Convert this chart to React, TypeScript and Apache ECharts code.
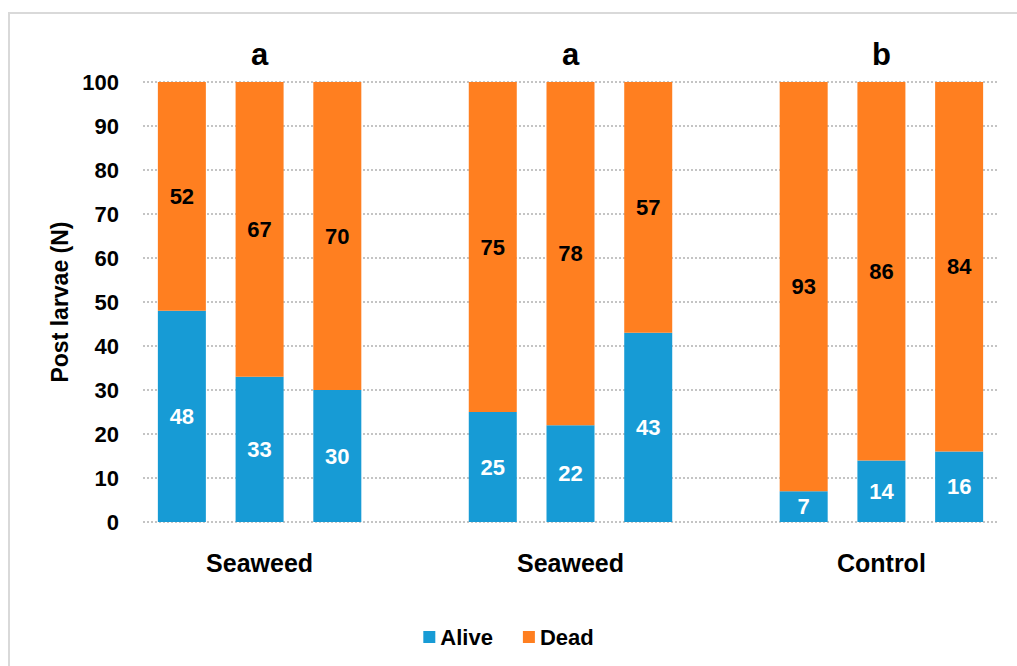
import React, { useEffect, useRef } from "react";
import * as echarts from "echarts";

const groupNames = ["Seaweed", "Seaweed", "Control"];
const groupLetters = ["a", "a", "b"];
const alive = [48, 33, 30, 25, 22, 43, 7, 14, 16];
const dead = [52, 67, 70, 75, 78, 57, 93, 86, 84];
const yTicks = { min: 0, max: 100, interval: 10 };

const FONT = "'Liberation Sans', Arial, sans-serif";

export default function App() {
  const ref = useRef<HTMLDivElement>(null);
  useEffect(() => {
    document.body.style.margin = "0";
    if (!ref.current) return;
    const chart = echarts.init(ref.current, undefined, { renderer: "svg" });
    // build 11 slots: 3 bars, gap, 3 bars, gap, 3 bars
    const cats: string[] = [];
    const catLabels: string[] = [];
    const aliveData: (number | null)[] = [];
    const deadData: (number | null)[] = [];
    const letterData: [number, number, string][] = [];
    groupNames.forEach((g, gi) => {
      for (let k = 0; k < 3; k++) {
        const idx = gi * 3 + k;
        cats.push(`${g}-${gi}-${k}`);
        catLabels.push(k === 1 ? g : "");
        aliveData.push(alive[idx]);
        deadData.push(dead[idx]);
        if (k === 1) letterData.push([cats.length - 1, 100, groupLetters[gi]]);
      }
      if (gi < groupNames.length - 1) {
        cats.push(`gap-${gi}`);
        catLabels.push("");
        aliveData.push(null);
        deadData.push(null);
      }
    });
    chart.setOption({
      animation: false,
      backgroundColor: "#ffffff",
      graphic: [
        {
          type: "rect",
          shape: { x: 9, y: 13, width: 1030, height: 680 },
          style: { fill: "none", stroke: "#d9d9d9", lineWidth: 2 },
          silent: true,
        },
      ],
      grid: { left: 143, right: 19, top: 82, bottom: 144, containLabel: false },
      legend: {
        data: ["Alive", "Dead"],
        top: 621,
        left: "center",
        icon: "rect",
        itemWidth: 12,
        itemHeight: 12,
        itemGap: 30,
        itemStyle: { borderWidth: 0 },
        textStyle: { fontFamily: FONT, fontWeight: "bold", fontSize: 22, color: "#000" },
      },
      xAxis: {
        type: "category",
        data: cats,
        axisLine: { show: false },
        axisTick: { show: false },
        axisLabel: {
          interval: 0,
          margin: 28,
          formatter: (_v: string, i: number) => catLabels[i],
          fontFamily: FONT,
          fontWeight: "bold",
          fontSize: 25,
          color: "#000",
        },
      },
      yAxis: {
        type: "value",
        min: yTicks.min,
        max: yTicks.max,
        interval: yTicks.interval,
        name: "Post larvae (N)",
        nameLocation: "middle",
        nameGap: 60,
        nameTextStyle: { fontFamily: FONT, fontWeight: "bold", fontSize: 23, color: "#000" },
        axisLine: { show: false },
        axisTick: { show: false },
        axisLabel: { margin: 24, fontFamily: FONT, fontWeight: "bold", fontSize: 22, color: "#000" },
        splitLine: { lineStyle: { type: "dotted", color: "#c4c4c4", width: 2 } },
      },
      series: [
        {
          name: "Alive",
          type: "bar",
          stack: "total",
          barWidth: 48,
          data: aliveData,
          itemStyle: { color: "#179bd5" },
          label: {
            show: true,
            position: "inside",
            color: "#fff",
            fontFamily: FONT,
            fontWeight: "bold",
            fontSize: 22,
          },
        },
        {
          name: "Dead",
          type: "bar",
          stack: "total",
          barWidth: 48,
          data: deadData,
          itemStyle: { color: "#ff7f20" },
          label: {
            show: true,
            position: "inside",
            color: "#000",
            fontFamily: FONT,
            fontWeight: "bold",
            fontSize: 22,
          },
        },
        {
          name: "letters",
          type: "scatter",
          data: letterData,
          symbolSize: 0,
          silent: true,
          itemStyle: { color: "#000", opacity: 1 },
          label: {
            show: true,
            position: "top",
            distance: 12,
            formatter: (p: any) => p.data[2],
            fontFamily: FONT,
            fontWeight: "bold",
            fontSize: 31,
            color: "#000",
            opacity: 1,
          },
        },
      ],
    });
    return () => chart.dispose();
  }, []);
  return <div ref={ref} style={{ width: 1017, height: 666 }} />;
}
